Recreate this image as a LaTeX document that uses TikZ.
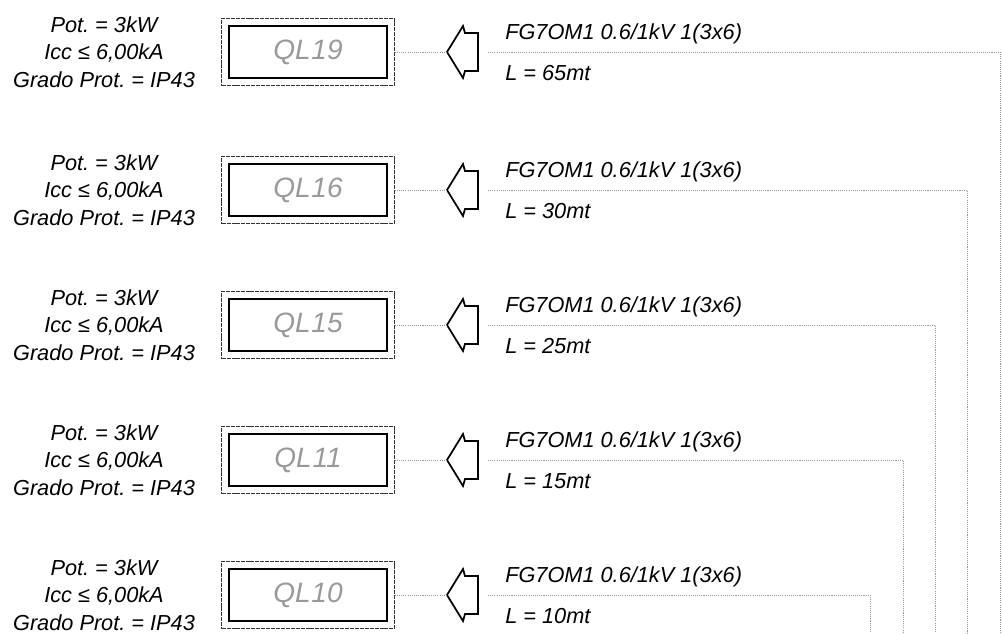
\documentclass[tikz,border=0pt]{standalone}
\usepackage{fontspec}
\setmainfont{Liberation Sans}
\frenchspacing
\begin{document}
\begin{tikzpicture}[x=.75pt, y=-.75pt]
\tikzstyle{every node} = [inner sep=0pt, font=\fontsize{16.3}{20.6}\selectfont\itshape]
\tikzstyle{outerbox} = [draw=black!80, line width=.6pt, dash pattern=on 3pt off .7pt, minimum width=129.5pt, minimum height=50.5pt]
\tikzstyle{innerbox} = [draw, line width=1.3pt, minimum width=118pt, minimum height=39.5pt, text=gray!80, font=\fontsize{21}{24}\selectfont\itshape]
\tikzstyle{cable} = [gray!80, line width=.6pt, dash pattern=on .8pt off .8pt]
\useasboundingbox (0, 0) rectangle (1003, 633);
\foreach \name/\yy/\len/\xend in {19/52/65/1000, 16/190/30/967, 15/325/25/935, 11/460/15/903, 10/595/10/870} {
\node[align=center] (data\name) at (104, \yy) {Pot. = 3kW\\Icc ≤ 6,00kA\\Grado Prot. = IP43};
\node[outerbox] (outer\name) at (308, \yy) {};
\node[innerbox] (box\name) at (308, \yy) {QL\kern.6pt\name};
\node[anchor=west] (cable\name) at (505, \yy-18) {FG7OM1 0.6/1kV 1(3x6)};
\node[anchor=west] (length\name) at (505, \yy+21) {L = \len mt};
\coordinate (tip\name) at (447, \yy);
\coordinate (tail\name) at (488, \yy);
\coordinate (corner\name) at (\xend, \yy);
\coordinate (end\name) at (\xend, 633);
\draw [line width=1.3pt, line join=miter] (tip\name) -- +(16, -26) -- +(18, -19) -- +(31, -19) -- +(31, 19) -- +(18, 19) -- +(16, 26) -- cycle;
\draw [cable] (outer\name) -- (tip\name);
\draw [cable] (tail\name) -- (corner\name) -- (end\name);
}
\end{tikzpicture}
\end{document}
